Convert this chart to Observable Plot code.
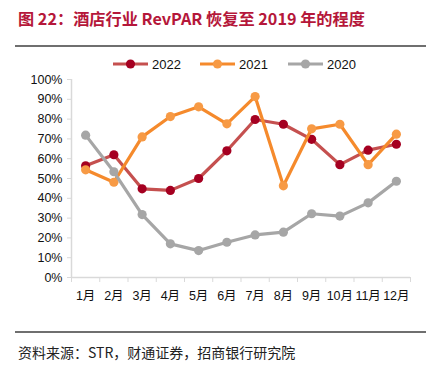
<!DOCTYPE html>
<html><head><meta charset="utf-8">
<script src="https://cdn.jsdelivr.net/npm/d3@7"></script>
<script src="https://cdn.jsdelivr.net/npm/@observablehq/plot@0.6"></script>
<style>
body{margin:0;background:#fff;width:436px;height:370px;position:relative;overflow:hidden;font-family:"Liberation Sans","Noto Sans CJK SC",sans-serif;}
#title{position:absolute;left:18px;top:6px;font-family:"Noto Sans CJK SC",sans-serif;font-weight:bold;font-size:16.2px;color:#B5173A;white-space:nowrap;}
.rule{position:absolute;left:15px;width:411px;height:2px;background:#6f6f6f;}
#legend{position:absolute;top:56px;left:0;width:436px;height:16px;}
.li{position:absolute;top:0;display:flex;align-items:center;font-size:13px;color:#111;}
.li svg{margin-right:4px;}
#chart{position:absolute;left:0;top:70px;}
#src{position:absolute;left:18px;top:342px;font-family:"Noto Sans CJK SC",sans-serif;font-size:14px;color:#222;white-space:nowrap;}
</style></head>
<body>
<div id="title">图 22：酒店行业 RevPAR 恢复至 2019 年的程度</div>
<div class="rule" style="top:45px"></div>
<div id="legend"></div>
<div id="chart"></div>
<div class="rule" style="top:331px"></div>
<div id="src">资料来源：STR，财通证券，招商银行研究院</div>
<script>
const months = ["1月","2月","3月","4月","5月","6月","7月","8月","9月","10月","11月","12月"];
const seriesNames = ["2022","2021","2020"];
const v2022 = [56.4, 62, 44.8, 44, 50, 64, 79.8, 77.4, 69.8, 57, 64.3, 67.3];
const v2021 = [54.4, 48.1, 71, 81.3, 86.2, 77.6, 91.4, 46.3, 75.1, 77.4, 57, 72.4];
const v2020 = [71.9, 53.4, 31.8, 17, 13.6, 17.8, 21.5, 22.9, 32.2, 31, 37.7, 48.6];
const yTicks = [0,10,20,30,40,50,60,70,80,90,100];

const lineColors = {"2022":"#C5504F","2021":"#F58A2C","2020":"#A6A6A6"};
const dotColors = {"2022":"#A50021","2021":"#F79A45","2020":"#A6A6A6"};
const values = {"2022":v2022,"2021":v2021,"2020":v2020};

const data = seriesNames.flatMap(s => values[s].map((v,i) => ({series:s, m:i+1, v})));
const bounds = d3.range(0, 13).map(i => i + 0.5);

const marks = [];
marks.push(Plot.ruleX([0.5], {y1:0, y2:100, stroke:"#d9d9d9", strokeWidth:1.5}));
marks.push(Plot.ruleY([0], {stroke:"#d9d9d9", strokeWidth:1.5}));
marks.push(Plot.axisY({ticks:yTicks, tickSize:4, stroke:"#d9d9d9", tickFormat:()=>"", label:null}));
marks.push(Plot.axisY({ticks:yTicks, tickSize:0, tickPadding:9, tickFormat:d=>d+"%", fill:"#111", fontSize:12.5, label:null}));
marks.push(Plot.axisX({ticks:bounds, tickSize:5, stroke:"#d9d9d9", tickFormat:()=>"", label:null}));
marks.push(Plot.axisX({ticks:d3.range(1,13), tickSize:0, tickPadding:14, tickFormat:d=>months[d-1], fill:"#111", fontSize:12.5, label:null}));
for (const s of seriesNames) {
  const d = data.filter(r => r.series === s);
  marks.push(Plot.line(d, {x:"m", y:"v", stroke:lineColors[s], strokeWidth:3.2}));
  marks.push(Plot.dot(d, {x:"m", y:"v", r:4.6, fill:dotColors[s], stroke:"none"}));
}

const chart = Plot.plot({
  width:436, height:240,
  marginLeft:71, marginRight:26, marginTop:9, marginBottom:33,
  x:{type:"linear", domain:[0.5,12.5], axis:null, label:null},
  y:{type:"linear", domain:[0,100], axis:null, label:null},
  style:{fontFamily:"'Liberation Sans','Noto Sans CJK SC',sans-serif", background:"transparent", overflow:"visible"},
  marks
});
document.getElementById("chart").appendChild(chart);

// legend
const legendPos = [113, 200, 288];
const lg = document.getElementById("legend");
seriesNames.forEach((s,i) => {
  const el = document.createElement("div");
  el.className = "li";
  el.style.left = legendPos[i] + "px";
  el.innerHTML = `<svg width="35" height="16"><line x1="0" x2="35" y1="8" y2="8" stroke="${lineColors[s]}" stroke-width="3.2"/><circle cx="17.5" cy="8" r="4.6" fill="${dotColors[s]}"/></svg><span>${s}</span>`;
  lg.appendChild(el);
});
</script>
</body></html>
